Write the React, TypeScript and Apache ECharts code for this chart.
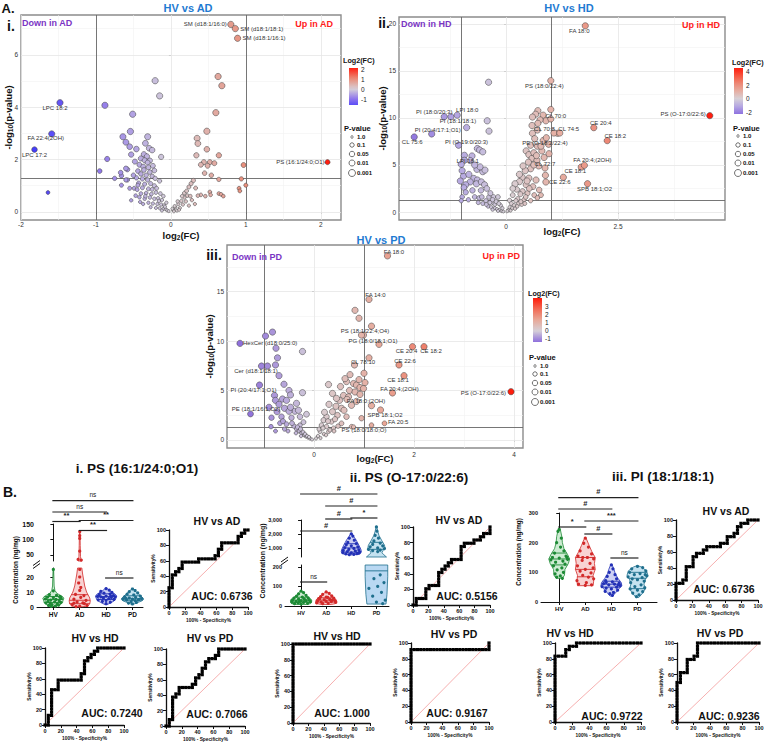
import { useEffect, useRef } from "react";
import * as echarts from "echarts";

const SANS = "'Liberation Sans', Arial, Helvetica, sans-serif";

// ===================== A. Volcano plots: [log2(FC), -log10(p)] =====================
const adPoints = [
  [-0.21,5.01],[-0.15,4.43],[-0.88,4.07],[-0.51,3.73],[-0.54,3.07],[-0.64,2.87],[-0.6,2.66],[-0.55,2.49],[-0.53,2.19],[-0.85,2.02],
  [-0.95,1.56],[-0.58,1.62],[-0.75,1.28],[-0.66,1.38],[-0.58,1.22],[-0.66,1.02],[-0.49,0.9],[-0.53,0.44],[-0.31,2.87],[-0.34,2.62],
  [-0.29,2.43],[-0.25,2.36],[-0.13,2.1],[-0.36,2.2],[-0.32,2.12],[-0.4,2.04],[-0.35,1.97],[-0.28,1.96],[-0.31,1.88],[-0.42,1.8],
  [-0.37,1.73],[-0.3,1.7],[-0.24,1.76],[-0.44,1.56],[-0.36,1.6],[-0.28,1.52],[-0.4,1.45],[-0.33,1.4],[-0.25,1.36],[-0.46,1.3],
  [-0.38,1.26],[-0.31,1.22],[-0.21,1.28],[-0.43,1.1],[-0.35,1.06],[-0.27,1.08],[-0.22,1.0],[-0.45,0.85],[-0.38,0.92],[-0.3,0.88],
  [-0.19,0.9],[-0.4,0.7],[-0.33,0.72],[-0.26,0.68],[-0.2,0.74],[-0.14,0.7],[-0.42,0.56],[-0.35,0.5],[-0.28,0.55],[-0.22,0.5],
  [-0.17,0.52],[-0.12,0.45],[-0.37,0.3],[-0.3,0.35],[-0.24,0.32],[-0.18,0.3],[-0.13,0.28],[-0.09,0.25],[-0.27,0.18],[-0.2,0.15],
  [-0.15,0.14],[-0.1,0.12],[-0.07,0.1],[-0.05,0.06],[-0.03,0.03],[-0.12,0.05],[-0.08,0.2],[-0.16,0.42],[-0.46,2.4],[-0.22,1.58],
  [-0.48,1.92],[-0.15,1.18],[-0.1,0.6],[-0.06,0.35],[-0.25,0.86],[-0.34,0.6],[-0.44,1.02],[-0.5,1.4],[-0.47,0.62],[-0.41,0.38],
  [-0.67,1.5],[-0.6,1.66],[-0.55,0.9],[-0.6,1.22],[-1.64,0.74],
  [0.63,5.17],[0.68,4.82],[0.6,3.79],[0.48,3.08],[0.35,2.81],[0.36,2.61],[0.48,2.39],[0.34,2.16],[0.64,2.16],[0.44,1.9],
  [0.52,1.9],[0.4,1.8],[0.49,1.76],[0.45,1.48],[0.54,1.4],[0.64,1.24],[0.97,1.79],[0.94,1.26],[1.0,1.02],[0.91,0.9],
  [0.92,0.8],[0.52,0.76],[0.53,0.65],[0.64,0.7],[0.67,0.67],[0.33,0.91],[0.4,0.65],[0.3,1.2],[0.27,1.08],[0.24,0.95],
  [0.32,0.3],[0.22,0.62],[0.18,0.55],[0.26,0.6],[0.14,0.42],[0.2,0.4],[0.28,0.45],[0.1,0.3],[0.16,0.28],[0.24,0.24],
  [0.06,0.18],[0.12,0.15],[0.03,0.08],[0.08,0.05],[0.18,0.72],[0.36,0.62],[0.46,0.6],[0.7,0.6],[0.58,1.86],[0.21,0.8],
  [0.15,0.6],[0.09,0.4],[0.05,0.22],[0.02,0.12],[0.11,0.08],[0.04,0.02],
];
const adNamed: [string, number, number][] = [
  ["SM (d18:1/16:0)", 0.8, 7.16], ["SM (d18:1/18:1)", 0.86, 7.0], ["SM (d18:1/16:1)", 0.89, 6.63],
  ["LPC 18:2", -1.48, 4.17], ["FA 22:4(2OH)", -1.59, 2.98], ["LPC 17:2", -1.82, 2.38],
  ["PS (16:1/24:0;O1)", 2.09, 1.9],
];
// label placement: dx, dy from the marker centre (px), text alignment
const adTags: Record<string, [number, number, string]> = {
  "SM (d18:1/16:0)": [-4, 0, "right"], "SM (d18:1/18:1)": [5, 0, "left"], "SM (d18:1/16:1)": [5, 0, "left"],
  "LPC 18:2": [-5, 5, "center"], "FA 22:4(2OH)": [-6, 4, "center"], "LPC 17:2": [0, 5, "center"],
  "PS (16:1/24:0;O1)": [-3, 0, "right"],
};

const hdPoints = [
  [-0.39,13.8],[-0.42,9.7],[-0.38,8.6],[-0.88,8.98],[-0.64,6.75],[-0.59,6.6],[-0.52,6.4],[-0.93,6.03],[-0.76,5.96],[-0.93,5.5],
  [-0.8,5.47],[-0.65,4.54],[-0.52,4.29],[-0.47,4.46],[-0.95,3.82],[-0.72,3.57],[-0.64,3.4],[-0.8,3.2],[-0.9,2.9],[-0.94,2.6],
  [-0.66,3.0],[-0.55,3.2],[-0.48,2.9],[-0.43,2.5],[-0.56,2.3],[-0.9,2.1],[-0.98,1.6],[-0.7,1.6],[-0.6,1.5],[-0.38,1.6],
  [-0.28,1.6],[-0.18,1.6],[-0.29,1.0],[-0.25,0.8],[-0.12,0.7],[-1.0,1.2],[-0.84,1.3],[-0.75,2.3],[-1.02,3.3],[-0.98,4.4],
  [-0.83,4.0],[-0.58,4.8],[-0.7,5.0],[-0.35,2.0],[-0.45,1.2],[-0.52,0.9],[-0.4,0.6],[-0.33,0.5],[-0.25,0.4],[-0.2,0.3],
  [-0.15,0.2],[-0.1,0.1],[-0.06,0.05],[-0.3,1.3],[-0.22,1.1],[-0.16,0.9],[-0.08,0.4],[-0.62,1.0],[-0.54,1.6],[-0.36,1.0],
  [-0.44,0.8],[-0.3,0.25],[-0.18,0.12],
  [0.71,10.78],[0.66,10.4],[0.59,10.1],[0.83,10.3],[0.89,9.7],[0.76,9.8],[0.71,9.43],[1.15,8.37],[0.7,8.72],[0.59,8.37],
  [0.83,7.6],[0.7,7.0],[0.55,7.1],[0.45,6.5],[0.51,6.1],[0.58,5.7],[0.69,5.5],[0.73,4.9],[0.55,4.6],[0.43,4.4],
  [0.36,3.7],[0.51,3.6],[0.67,3.4],[0.3,3.23],[0.45,2.9],[0.6,2.7],[0.74,2.35],[0.24,2.4],[0.37,2.2],[0.48,2.0],
  [0.63,1.8],[0.78,1.8],[0.15,1.8],[0.26,1.4],[0.4,1.3],[0.55,1.2],[0.08,1.23],[0.9,7.9],[0.95,7.2],[0.64,7.8],
  [0.8,6.5],[0.62,6.3],[0.68,6.0],[0.5,5.3],[0.62,5.0],[0.85,5.8],[0.38,4.9],[0.3,4.0],[0.2,3.0],[0.15,2.5],
  [0.32,1.9],[0.22,1.2],[0.12,0.9],[0.18,0.7],[0.28,0.9],[0.35,0.8],[0.08,0.5],[0.14,0.4],[0.05,0.2],[0.1,0.15],
  [0.03,0.1],[0.44,1.6],[0.7,1.5],[0.52,2.5],[0.96,6.2],[0.58,9.2],[1.0,10.9],[0.47,3.3],[0.88,3.9],[1.68,4.78],
  [0.25,0.6],[0.33,1.1],[0.42,0.9],[0.2,0.35],
];
const hdNamed: [string, number, number][] = [
  ["FA 18:0", 1.77, 19.8], ["PS (18:0/22:4)", 1.0, 13.97], ["PS (O-17:0/22:6)", 4.55, 10.25],
  ["CE 20:4", 1.96, 8.97], ["CE 18:2", 2.26, 7.59], ["FA 20:4;(2OH)", 1.75, 4.96], ["CE 18:1", 1.28, 3.69],
  ["SPB 18:1;O2", 1.82, 3.01], ["CE 22:6", 0.89, 3.19], ["CL 72:7", 0.87, 4.68], ["CL 70:0", 1.0, 9.9],
  ["CL 70:8", 1.07, 8.4], ["CL 74:5", 1.2, 8.4], ["PE (O-18:2/22:4)", 0.78, 7.0], ["CL 75:6", -2.05, 7.98],
  ["PI (20:4/17:1;O1)", -1.66, 8.3], ["PI (18:0/20:3)", -1.38, 10.14], ["PI (18:1/18:1)", -1.23, 10.14],
  ["LPI 18:0", -1.09, 10.3], ["PI (O-19:0/20:3)", -1.06, 7.1], ["LPI 18:1", -1.0, 5.07],
];
const hdTags: Record<string, [number, number, string]> = {
  "FA 18:0": [-6, 5, "center"], "PS (18:0/22:4)": [-6.5, 5, "center"], "PS (O-17:0/22:6)": [-4, -2, "right"],
  "CE 20:4": [7, -5, "center"], "CE 18:2": [8, -5, "center"], "FA 20:4;(2OH)": [8, -5, "center"],
  "CE 18:1": [12, -6, "center"], "SPB 18:1;O2": [7, 5, "center"], "CE 22:6": [3, 0, "left"],
  "CL 72:7": [0, -4, "center"], "CL 70:0": [5, -3, "center"], "CL 70:8": [-9.5, -4, "center"],
  "CL 74:5": [9, -4, "center"], "PE (O-18:2/22:4)": [4, -3, "center"], "CL 75:6": [-2, 5, "center"],
  "PI (20:4/17:1;O1)": [6, -4, "center"], "PI (18:0/20:3)": [-10, -5, "center"], "PI (18:1/18:1)": [7, 4, "center"],
  "LPI 18:0": [10, -5, "center"], "PI (O-19:0/20:3)": [8, -3, "center"], "LPI 18:1": [6.5, -3, "center"],
};

const pdPoints = [
  [-0.83,10.9],[-0.97,10.5],[-0.76,9.27],[-0.73,8.3],[-0.23,8.94],[-0.77,7.58],[-0.7,6.5],[-0.6,5.63],[-0.23,4.78],[-0.5,5.0],
  [-0.79,4.5],[-0.47,4.55],[-0.77,4.0],[-0.63,4.14],[-0.55,4.0],[-0.35,3.7],[-0.74,2.86],[-0.59,3.2],[-0.85,2.25],[-0.65,2.35],
  [-0.45,2.25],[-0.38,2.9],[-0.28,2.35],[-0.86,1.35],[-0.77,0.9],[-0.59,1.1],[-0.52,0.9],[-0.28,1.5],[-0.15,2.6],[-0.21,1.8],
  [-0.68,1.7],[-0.4,1.4],[-0.35,1.1],[-0.3,0.9],[-0.25,0.7],[-0.2,0.5],[-0.16,0.35],[-0.12,0.25],[-0.08,0.15],[-0.04,0.05],
  [-0.44,1.7],[-0.33,1.3],[-0.27,1.1],[-0.22,0.8],[-0.18,0.6],[-0.14,0.4],[-0.1,0.3],[-0.5,2.9],[-0.62,1.9],[-0.9,3.3],
  [-0.7,3.6],[-0.47,3.3],[-0.31,3.0],[-0.36,0.7],[-0.26,0.4],[-0.55,1.6],[-0.93,7.47],
  [0.82,13.1],[0.9,12.3],[0.99,10.6],[0.95,10.6],[0.81,7.58],[1.0,6.74],[0.72,6.6],[0.65,5.9],[0.79,5.7],[0.85,5.55],
  [0.92,5.3],[0.99,5.2],[0.53,5.4],[0.71,5.0],[0.82,4.85],[0.59,4.5],[0.69,4.36],[0.37,4.7],[0.29,5.6],[0.51,4.0],
  [0.75,3.5],[0.44,3.4],[0.55,3.2],[0.37,2.86],[0.47,2.5],[0.65,2.35],[0.95,2.2],[0.25,2.35],[0.19,2.0],[0.35,1.85],
  [0.55,1.68],[0.75,1.35],[1.15,1.5],[0.25,1.35],[0.12,0.85],[0.29,0.85],[0.39,1.2],[0.6,3.0],[0.85,3.9],[0.62,6.2],
  [0.9,6.1],[0.45,4.2],[0.3,3.6],[0.21,2.8],[0.15,1.5],[0.32,1.0],[0.2,0.6],[0.08,0.4],[0.04,0.15],[0.13,0.2],
  [0.24,0.5],[0.4,0.9],[0.48,1.4],[0.66,4.1],[0.92,4.6],[1.02,5.8],[0.1,1.1],[0.18,1.2],[0.28,1.9],[0.42,2.1],
];
const pdNamed: [string, number, number][] = [
  ["FA 18:0", 1.47, 18.6], ["FA 14:0", 1.1, 14.2], ["PS (18:1/22:4;O4)", 1.15, 11.5], ["PG (18:0/18:1;O1)", 1.3, 9.66],
  ["CE 20:4", 1.97, 9.43], ["CE 18:2", 2.2, 9.43], ["CE 22:6", 1.7, 7.58], ["CL 78:10", 1.1, 8.3],
  ["CE 18:1", 1.8, 6.5], ["FA 20:4;(2OH)", 1.57, 4.75], ["FA 18:0;(2OH)", 1.15, 3.47], ["SPB 18:1;O2", 1.33, 3.03],
  ["FA 20:5", 1.41, 1.68], ["PS (18:0/18:0;O)", 0.79, 1.31], ["PS (O-17:0/22:6)", 3.94, 4.88],
  ["HexCer (d18:0/25:0)", -1.48, 9.76], ["Cer (d18:1/18:1)", -1.05, 7.47], ["PI (20:4/17:1;O1)", -1.09, 5.55],
  ["PE (18:1/16:1;O2)", -1.27, 2.63],
];
const pdTags: Record<string, [number, number, string]> = {
  "FA 18:0": [6.5, -4, "center"], "FA 14:0": [6.5, -4.7, "center"], "PS (18:1/22:4;O4)": [-6.5, 4.5, "center"],
  "PG (18:0/18:1;O1)": [-6, -3.4, "center"], "CE 20:4": [-6, 4.3, "center"], "CE 18:2": [7, 4.3, "center"],
  "CE 22:6": [6, -4, "center"], "CL 78:10": [-6, 4, "center"], "CE 18:1": [-6, 4.6, "center"],
  "FA 20:4;(2OH)": [7, -4, "center"], "FA 18:0;(2OH)": [-5.5, -5, "center"], "SPB 18:1;O2": [4.5, 5, "center"],
  "FA 20:5": [3.5, -1, "left"], "PS (18:0/18:0;O)": [10.5, 3, "center"], "PS (O-17:0/22:6)": [-5, 1, "right"],
  "HexCer (d18:0/25:0)": [3, 0, "left"], "Cer (d18:1/18:1)": [-5.5, 5, "center"],
  "PI (20:4/17:1;O1)": [-6, 5, "center"], "PE (18:1/16:1;O2)": [5.5, -5, "center"],
};

const pValueKeys = ["1.0", "0.1", "0.05", "0.01", "0.001"];
const adFcTicks = [2, 1, 0, -1];
const hdFcTicks = [4, 2, 0, -2];
const pdFcTicks = [3, 2, 1, 0, -1];
const adColors = ["#2f2dff", "#8a70ee", "#d7d1d8", "#ea8b76", "#ff1e10"];
const hdColors = ["#8e72e0", "#b4a6e2", "#d7d1d8", "#e6b0a4", "#ec8a78", "#f65a44", "#ff1e10"];
const pdColors = ["#8f70dc", "#d7d1d8", "#e8a898", "#f26a54", "#ff1a0a"];

// ===================== B. Concentrations (violins) =====================
const GROUPS = ["HV", "AD", "HD", "PD"];
const GROUP_DOT = ["#1d8a35", "#d32a2a", "#2331b6", "#1f6f8d"];
const GROUP_FILL = ["#cdebd2", "#f8d2d2", "#cdd0f3", "#c4e2f0"];

// violin outlines: [concentration, half width in category units]
const psO1ShapeHV = [[0.5,0.04],[1,0.2],[2,0.3],[3,0.35],[4,0.36],[5,0.38],[6,0.4],[7,0.34],[8,0.25],[9,0.14],[11,0.06],[14,0.03],[20,0.02],[25,0.01]];
const psO1ShapeAD = [[0.2,0.12],[0.6,0.3],[2,0.38],[4,0.4],[6,0.38],[8,0.32],[10,0.26],[14,0.19],[18,0.15],[22,0.11],[26,0.08],[32,0.05],[45,0.03],[80,0.02],[126,0.01]];
const psO1ShapeHD = [[1.6,0.04],[3,0.2],[4,0.3],[5,0.35],[6,0.38],[7,0.4],[8,0.38],[9,0.3],[10,0.22],[11,0.12],[12.5,0.03]];
const psO1ShapePD = [[1.8,0.04],[3,0.2],[4,0.35],[5,0.42],[6,0.4],[7,0.34],[8,0.28],[9,0.22],[10,0.15],[11,0.08],[12.2,0.03]];
// individual samples: [jitter, concentration]
const psO1DotsHV = [[0,25],[0,10.8],[-0.15,8.2],[0.12,7.8],[0.25,7],[-0.22,6.6],[0,6.2],[0.3,5.8],[-0.3,5.4],[0.1,5],[-0.1,4.6],[0.22,4.2],[-0.2,3.8],[0.05,3.4],[0.28,3],[-0.28,2.8],[-0.12,2.4],[0.15,2],[-0.05,1.6],[0.2,1.2],[-0.18,1],[0.08,0.6],[-0.08,0.4],[0.25,6.4]];
const psO1DotsAD = [[0,125],[0,112],[0,103],[0,62],[-0.06,35],[0.06,33],[0,25],[0,20],[-0.04,16],[0.04,13],[0,11],[-0.16,8.4],[0.16,7.6],[0.04,6.4],[-0.22,5.2],[0.24,4.4],[-0.1,3.4],[0.12,2.8],[-0.28,1.6],[0.28,1],[0,0.6],[-0.14,0.3],[0.18,2.2],[-0.22,2.6]];
const psO1DotsHD = [[0,12.2],[0.12,11.2],[-0.2,10.4],[0.22,9.8],[-0.08,9.2],[0.15,8.6],[-0.26,8.2],[0.28,7.6],[0,7.2],[-0.2,6.8],[0.2,6.4],[-0.1,6],[0.1,5.6],[0.3,5],[-0.3,4.8],[0,4.4],[-0.14,3.8],[0.16,3.2],[0,2.2],[0.18,7],[-0.32,7],[0.34,6.8]];
const psO1DotsPD = [[0,12],[0.1,11],[-0.12,10.2],[0.2,9.4],[-0.2,8.6],[0.05,8],[0.3,7.2],[-0.3,6.8],[0.12,6.4],[-0.12,6],[0.35,5.6],[-0.35,5.4],[0,5.2],[0.22,4.8],[-0.22,4.6],[0.1,4.2],[-0.05,3.6],[0.15,3],[-0.15,2.6],[0,2],[0.25,5],[-0.25,5.8]];
const psO1Quartiles = [[3, 5, 7], [2.2, 4.5, 8.2], [5, 7, 8.8], [4.5, 5.5, 7.5]];

const psO17ShapeHV = [[8,0.2],[12,0.38],[20,0.42],[30,0.42],[40,0.35],[50,0.22],[60,0.14],[70,0.08],[78,0.02]];
const psO17ShapeAD = [[8,0.2],[12,0.36],[22,0.42],[32,0.4],[42,0.32],[52,0.22],[62,0.12],[72,0.02]];
const psO17ShapeHD = [[500,0.04],[540,0.28],[620,0.36],[750,0.4],[900,0.38],[1050,0.34],[1200,0.3],[1400,0.24],[1600,0.18],[1800,0.1],[2050,0.02]];
const psO17ShapePD = [[10,0.38],[60,0.42],[150,0.45],[210,0.45],[350,0.4],[500,0.3],[650,0.22],[800,0.26],[1000,0.34],[1200,0.32],[1500,0.22],[1900,0.1],[2200,0.05],[2550,0.01]];
const psO17DotsHV = [[0,76],[0.1,68],[-0.1,62],[0.2,55],[-0.18,50],[0.05,46],[0.28,42],[-0.28,40],[0.12,37],[-0.1,35],[0.32,32],[-0.34,30],[0,28],[0.2,26],[-0.2,24],[0.36,22],[-0.36,20],[0.1,18],[-0.12,16],[0.26,14],[-0.26,12],[0,10],[0.16,30],[-0.06,22]];
const psO17DotsAD = [[0,72],[0.12,65],[-0.14,60],[0.22,52],[-0.22,48],[0.06,44],[0.3,40],[-0.3,38],[0.14,34],[-0.08,32],[0.34,28],[-0.34,26],[0,24],[0.2,22],[-0.2,20],[0.38,18],[-0.38,16],[0.08,14],[-0.14,12],[0.24,30],[-0.26,36],[0,45]];
const psO17DotsHD = [[0,2000],[0.06,1850],[-0.08,1700],[0.12,1550],[-0.14,1400],[0.2,1300],[-0.2,1220],[0,1150],[0.26,1080],[-0.26,1020],[0.1,960],[-0.1,900],[0.3,860],[-0.32,820],[0.16,780],[-0.16,740],[0.34,700],[-0.34,660],[0,640],[0.22,600],[-0.22,580],[0.1,540],[-0.08,520],[0.3,620]];
const psO17DotsPD = [[0,2500],[0.02,2200],[-0.05,1900],[0.08,1700],[-0.1,1500],[0.15,1350],[-0.15,1250],[0.25,1150],[-0.25,1080],[0.05,1000],[0.32,950],[-0.32,900],[0.15,850],[-0.15,800],[0.05,740],[0.15,160],[-0.1,140],[0.3,120],[0.05,100],[-0.3,90],[0.2,70],[-0.15,50],[0.35,30],[0,20],[0.25,12]];
const psO17Quartiles = [[20, 30, 45], [20, 30, 42], [700, 1000, 1300], [180, 900, 1400]];

const piShapeHV = [[80,0.12],[90,0.2],[110,0.22],[130,0.35],[145,0.4],[160,0.32],[180,0.18],[200,0.12],[220,0.1],[245,0.04]];
const piShapeAD = [[55,0.3],[70,0.32],[90,0.3],[110,0.38],[130,0.35],[150,0.38],[170,0.25],[190,0.15],[215,0.03]];
const piShapeHD = [[20,0.05],[30,0.15],[45,0.3],[55,0.4],[65,0.38],[80,0.25],[95,0.15],[110,0.1],[125,0.03]];
const piShapePD = [[15,0.05],[30,0.2],[45,0.3],[60,0.25],[75,0.3],[90,0.4],[105,0.35],[118,0.15],[122,0.03]];
const piDotsHV = [[0,245],[-0.05,238],[0.08,215],[-0.1,200],[0.05,185],[0.18,172],[-0.18,165],[0.26,155],[-0.26,150],[0,148],[0.32,144],[-0.32,142],[0.14,138],[-0.14,134],[0.22,128],[-0.22,122],[0.1,115],[-0.08,108],[0.16,100],[-0.16,95],[0.04,88],[-0.1,84],[0.12,80],[0.3,150]];
const piDotsAD = [[0,215],[-0.06,198],[0.12,185],[-0.2,172],[0.24,162],[-0.28,155],[0.08,150],[0.32,145],[-0.12,140],[0.18,130],[-0.3,122],[0.3,115],[0,110],[-0.2,104],[0.22,98],[-0.1,90],[0.12,84],[0.32,78],[-0.32,72],[0.04,65],[-0.26,60],[0.24,58],[0,56],[-0.1,150]];
const piDotsHD = [[0,125],[0.06,112],[-0.08,100],[0.14,92],[-0.16,86],[0.2,78],[-0.22,72],[0.04,68],[0.3,64],[-0.3,62],[0.12,60],[-0.1,58],[0.34,55],[-0.36,52],[0.2,50],[-0.2,47],[0,44],[0.24,40],[-0.24,36],[0.08,32],[-0.06,28],[0.04,22],[0.26,58],[-0.2,66]];
const piDotsPD = [[0,120],[0.2,116],[-0.22,112],[0.32,105],[-0.3,100],[0.1,96],[-0.12,92],[0.36,88],[-0.36,85],[0.18,82],[-0.2,78],[0,75],[0.26,70],[-0.26,65],[0.14,58],[-0.1,52],[0.28,48],[-0.28,44],[0,40],[0.2,35],[-0.18,30],[0.06,24],[-0.04,18],[0.3,92]];
const piQuartiles = [[125, 145, 165], [85, 110, 150], [50, 60, 70], [45, 80, 100]];

// pairwise comparisons: [group a, group b, annotation]
const psO1Tests: [number, number, string][] = [[0, 3, "ns"], [0, 2, "ns"], [0, 1, "**"], [1, 3, "**"], [1, 2, "**"], [2, 3, "ns"]];
const psO17Tests: [number, number, string][] = [[0, 3, "#"], [1, 3, "#"], [1, 2, "#"], [2, 3, "*"], [0, 2, "#"], [0, 1, "ns"]];
const piTests: [number, number, string][] = [[0, 3, "#"], [0, 2, "#"], [0, 1, "*"], [1, 3, "***"], [1, 2, "#"], [2, 3, "ns"]];

// ROC curves: sensitivity steps (out of 24) reached at each of 24 false-positive steps
const rocPsO1AD = [6,10,11,12,14,14,14,14,14,15,15,15,15,15,16,18,20,20,20,20,20,22,23,24];
const rocPsO1HD = [0,3,11,11,14,14,14,14,14,14,14,16,20,21,22,23,24,24,24,24,24,24,24,24];
const rocPsO1PD = [0,2,9,10,12,12,12,12,13,15,16,18,20,21,21,22,24,24,24,24,24,24,24,24];
const rocPsO17AD = [0,2,2,2,5,6,6,6,10,11,12,13,14,14,14,18,19,19,19,20,20,21,22,22];
const rocPsO17HD = [24,24,24,24,24,24,24,24,24,24,24,24,24,24,24,24,24,24,24,24,24,24,24,24];
const rocPsO17PD = [22,22,22,22,22,22,22,22,22,22,22,22,22,22,22,22,22,22,22,22,22,22,22,22];
const rocPiAD = [5,5,6,10,10,13,14,14,15,16,16,16,16,17,17,19,19,20,22,23,23,24,24,24];
const rocPiHD = [20,20,20,22,23,23,24,24,24,24,24,24,24,24,24,24,24,24,24,24,24,24,24,24];
const rocPiPD = [12,15,15,19,19,20,24,24,24,24,24,24,24,24,24,24,24,24,24,24,24,24,24,24];
const aucLabels = ["0.6736", "0.7240", "0.7066", "0.5156", "1.000", "0.9167", "0.6736", "0.9722", "0.9236"];

// ---------------------------------------------------------------------------
function hexToRgb(h: string) {
  const n = parseInt(h.slice(1), 16);
  return [(n >> 16) & 255, (n >> 8) & 255, n & 255];
}
function colorAt(v: number, min: number, max: number, cols: string[]) {
  let t = (v - min) / (max - min);
  t = Math.max(0, Math.min(1, t));
  const f = t * (cols.length - 1);
  const i = Math.min(Math.floor(f), cols.length - 2);
  const u = f - i;
  const a = hexToRgb(cols[i]), b = hexToRgb(cols[i + 1]);
  const c = a.map((x, k) => Math.round(x + (b[k] - x) * u));
  return `rgb(${c[0]},${c[1]},${c[2]})`;
}
function clipShape(shape: number[][], lo: number, hi: number) {
  const out: number[][] = [];
  for (let i = 0; i < shape.length; i++) {
    const [v, w] = shape[i];
    if (i > 0) {
      const [pv, pw] = shape[i - 1];
      for (const b of [lo, hi]) {
        if ((pv - b) * (v - b) < 0) out.push([b, pw + ((w - pw) * (b - pv)) / (v - pv)]);
      }
    }
    if (v >= lo && v <= hi) out.push([v, w]);
  }
  return out.sort((a, b) => a[0] - b[0]);
}
function widthAt(shape: number[][], q: number) {
  for (let i = 1; i < shape.length; i++) {
    const [pv, pw] = shape[i - 1], [v, w] = shape[i];
    if (q >= pv && q <= v) return pw + ((w - pw) * (q - pv)) / (v - pv);
  }
  return 0;
}
function rocPath(h: number[]) {
  const n = h.length;
  const pts: number[][] = [[0, 0]];
  let cur = 0;
  for (let c = 0; c < n; c++) {
    while (cur < h[c]) { cur++; pts.push([c, cur]); }
    pts.push([c + 1, cur]);
  }
  while (cur < n) { cur++; pts.push([n, cur]); }
  return pts.map(([x, y]) => [(x * 100) / n, (y * 100) / n]);
}

function buildOption() {
  const grid: any[] = [], xAxis: any[] = [], yAxis: any[] = [], series: any[] = [], visualMap: any[] = [], els: any[] = [];

  const addGrid = (g: any, xa: any, ya: any) => {
    grid.push({ outerBoundsMode: "none", containLabel: false, ...g });
    const gi = grid.length - 1;
    xAxis.push({ gridIndex: gi, nameMoveOverlap: false, ...xa });
    yAxis.push({ gridIndex: gi, nameMoveOverlap: false, ...ya });
    return gi;
  };
  const txt = (x: number, y: number, text: string, size: number, o: any = {}) => {
    const align = o.align || "center";
    els.push({
      type: "text", x, y, rotation: o.rot || 0, silent: true, z: 100,
      style: {
        text, fill: o.color || "#111", font: `${o.weight || "bold"} ${size}px ${SANS}`,
        textAlign: align, align, textVerticalAlign: "middle", verticalAlign: "middle",
      },
    });
  };
  const seg = (x1: number, y1: number, x2: number, y2: number, w = 1.1, color = "#111") => {
    els.push({ type: "line", silent: true, z: 100, shape: { x1, y1, x2, y2 }, style: { stroke: color, lineWidth: w } });
  };

  // ---------------- volcano ----------------
  const volcano = (c: any) => {
    const tickStyle = { fontSize: 6.5, color: "#333", fontFamily: SANS };
    const nameStyle = {
      fontSize: 9.5, fontWeight: "bold", color: "#111", fontFamily: SANS, lineHeight: 12,
      rich: { s: { fontSize: 6.5, fontWeight: "bold", color: "#111", fontFamily: SANS, verticalAlign: "bottom", lineHeight: 8 } },
    };
    const gi = addGrid(
      { left: c.left, top: c.top, width: c.right - c.left, height: c.bottom - c.top, show: true, borderColor: "#8c8c8c", borderWidth: 1.4, backgroundColor: "#fff" },
      {
        type: "value", min: c.xMin, max: c.xMax, axisLine: { show: false },
        axisTick: { show: true, customValues: c.xLabels, length: 2, lineStyle: { color: "#555", width: 0.8 } },
        axisLabel: { customValues: c.xLabels, margin: c.xMargin, ...tickStyle }, splitLine: { show: false },
        name: "log{s|2}(FC)", nameLocation: "middle", nameGap: c.xNameGap, nameTextStyle: nameStyle,
      },
      {
        type: "value", min: c.yMin, max: c.yMax, axisLine: { show: false },
        axisTick: { show: true, customValues: c.yLabels, length: 2, lineStyle: { color: "#555", width: 0.8 } },
        axisLabel: { customValues: c.yLabels, margin: 3, ...tickStyle }, splitLine: { show: false },
        name: "-log{s|10}(p-value)", nameLocation: "middle", nameGap: c.yNameGap, nameRotate: 90, nameTextStyle: nameStyle,
      }
    );
    const major = { color: "#e6e6e6", width: 0.8, type: "solid" };
    const minor = { color: "#f1f1f1", width: 0.6, type: "solid" };
    series.push({
      type: "scatter", xAxisIndex: gi, yAxisIndex: gi, data: [], silent: true,
      markLine: {
        silent: true, symbol: "none", z: 1, animation: false, label: { show: false },
        data: [
          ...c.xMinor.map((v: number) => ({ xAxis: v, lineStyle: minor })),
          ...c.yMinor.map((v: number) => ({ yAxis: v, lineStyle: minor })),
          ...c.xMajor.map((v: number) => ({ xAxis: v, lineStyle: major })),
          ...c.yMajor.map((v: number) => ({ yAxis: v, lineStyle: major })),
        ],
      },
    });
    series.push({
      type: "scatter", xAxisIndex: gi, yAxisIndex: gi, data: [], silent: true,
      markLine: {
        silent: true, symbol: "none", z: 2, animation: false, label: { show: false },
        lineStyle: { color: "#666", width: 0.9, type: "solid" },
        data: [{ xAxis: -1 }, { xAxis: 1 }, { yAxis: 1.3 }],
      },
    });
    const data: any[] = c.points.map((p: number[]) => ({ value: p }));
    c.named.forEach(([n, x, y]: [string, number, number]) => {
      const [dx, dy, align] = c.tags[n];
      data.push({
        value: [x, y], name: n,
        label: {
          show: true, formatter: "{b}", position: "inside", offset: [dx, dy], align, verticalAlign: "middle",
          fontSize: 6, color: "#333", fontFamily: SANS,
        },
      });
    });
    series.push({
      type: "scatter", xAxisIndex: gi, yAxisIndex: gi, z: 3, data,
      symbolSize: (v: number[]) => 3 + Math.min(v[1], 3) * 1.1,
      itemStyle: { borderColor: "#3a3a3a", borderWidth: 0.5, opacity: 1 },
      emphasis: { disabled: true },
    });
    visualMap.push({
      type: "continuous", show: false, seriesIndex: series.length - 1, dimension: 0,
      min: c.vmMin, max: c.vmMax, inRange: { color: c.colors },
    });

    // legend: colour bar
    const L = c.legend;
    txt(L.x, L.fcY, "Log2(FC)", 7.2, { align: "left" });
    const stops = [];
    for (let k = 0; k <= 12; k++) {
      const v = L.barTop - ((L.barTop - L.barBottom) * k) / 12;
      stops.push({ offset: k / 12, color: colorAt(v, c.vmMin, c.vmMax, c.colors) });
    }
    els.push({
      type: "rect", silent: true, z: 100, shape: { x: L.barX, y: L.barY, width: 9, height: L.barH },
      style: { fill: { type: "linear", x: 0, y: 0, x2: 0, y2: 1, colorStops: stops } },
    });
    L.ticks.forEach((t: number) => {
      const y = L.barY + ((L.barTop - t) / (L.barTop - L.barBottom)) * L.barH;
      seg(L.barX + 9, y, L.barX + 11, y, 0.6, "#fff");
      txt(L.barX + 12, y, String(t), 6.5, { align: "left", weight: "normal", color: "#222" });
    });
    // legend: p-value sizes
    txt(L.x + 1, L.pY, "P-value", 7.5, { align: "left" });
    const radii = [1.2, 2.2, 2.7, 3.0, 3.5];
    pValueKeys.forEach((k, i) => {
      const y = L.pRows[i];
      els.push({ type: "circle", silent: true, z: 100, shape: { cx: L.cx, cy: y, r: radii[i] }, style: { fill: "#fff", stroke: "#333", lineWidth: 0.7 } });
      txt(L.cx + 5, y, k, 6, { align: "left" });
    });
  };

  volcano({
    left: 21, right: 341, top: 15, bottom: 220, xMin: -2, xMax: 2.27, yMin: -0.31, yMax: 7.52,
    xLabels: [-2, -1, 0, 1, 2], yLabels: [0, 2, 4, 6], xMajor: [-2, 0, 2], xMinor: [-1.5, -0.5, 0.5, 1.5],
    yMajor: [0, 2, 4, 6], yMinor: [1, 3, 5, 7], xMargin: 1, xNameGap: 9, yNameGap: 7,
    points: adPoints, named: adNamed, tags: adTags, vmMin: -2.1, vmMax: 2.1, colors: adColors,
    legend: { x: 343, fcY: 60, barX: 349, barY: 68, barH: 37, barTop: 2.1, barBottom: -1.6, ticks: adFcTicks, pY: 128, pRows: [137, 145, 154, 163, 173], cx: 352 },
  });
  volcano({
    left: 399, right: 725, top: 17, bottom: 220, xMin: -2.39, xMax: 4.89, yMin: -0.85, yMax: 20.74,
    xLabels: [0, 2.5], yLabels: [0, 5, 10, 15, 20], xMajor: [0, 2.5], xMinor: [-1.25, 1.25, 3.75],
    yMajor: [0, 5, 10, 15, 20], yMinor: [2.5, 7.5, 12.5, 17.5], xMargin: 3, xNameGap: 5, yNameGap: 11,
    points: hdPoints, named: hdNamed, tags: hdTags, vmMin: -2.2, vmMax: 4.4, colors: hdColors,
    legend: { x: 732, fcY: 62, barX: 734, barY: 68, barH: 46, barTop: 4.5, barBottom: -2.2, ticks: hdFcTicks, pY: 128, pRows: [136, 145, 154, 163, 173], cx: 738 },
  });
  volcano({
    left: 227, right: 523, top: 245, bottom: 448, xMin: -1.74, xMax: 4.18, yMin: -0.81, yMax: 19.7,
    xLabels: [0, 2, 4], yLabels: [0, 5, 10, 15], xMajor: [0, 2, 4], xMinor: [3],
    yMajor: [0, 5, 10, 15], yMinor: [2.5, 7.5, 12.5, 17.5], xMargin: 3, xNameGap: 4, yNameGap: 12,
    points: pdPoints, named: pdNamed, tags: pdTags, vmMin: -1.33, vmMax: 4.0, colors: pdColors,
    legend: { x: 528, fcY: 293, barX: 533, barY: 298, barH: 44, barTop: 4.0, barBottom: -1.37, ticks: pdFcTicks, pY: 357, pRows: [366, 374, 383, 392, 402], cx: 535 },
  });

  // volcano headers
  const blue = "#1f7bd2", purple = "#7b35c4", red = "#ff2020";
  txt(8, 8, "A.", 13);
  txt(188, 8, "HV vs AD", 11, { color: blue });
  txt(569, 8, "HV vs HD", 11, { color: blue });
  txt(381, 240, "HV vs PD", 11, { color: blue });
  txt(11, 26, "i.", 14);
  txt(384, 23, "ii.", 14);
  txt(214, 255, "iii.", 14);
  txt(22, 23, "Down in AD", 9, { align: "left", color: purple });
  txt(333, 24, "Up in AD", 9, { align: "right", color: red });
  txt(401, 24, "Down in HD", 9, { align: "left", color: purple });
  txt(720, 25, "Up in HD", 9, { align: "right", color: red });
  txt(232, 257, "Down in PD", 9, { align: "left", color: purple });
  txt(520, 256, "Up in PD", 9, { align: "right", color: red });

  // ---------------- violins ----------------
  const violinSegment = (c: any) => {
    const gi = addGrid(
      { left: c.left, top: c.top, width: c.width, height: c.height },
      c.showX
        ? {
            type: "value", min: c.xMin, max: c.xMax,
            axisLine: { show: true, lineStyle: { color: "#111", width: 1 } },
            axisTick: { show: true, customValues: [0, 1, 2, 3], length: 3, lineStyle: { color: "#111", width: 1 } },
            axisLabel: {
              customValues: [0, 1, 2, 3], margin: 4, fontSize: c.catFont, fontWeight: "bold", color: "#111", fontFamily: SANS,
              formatter: (v: number) => GROUPS[Math.round(v)],
            },
            splitLine: { show: false },
          }
        : { type: "value", min: c.xMin, max: c.xMax, show: false, splitLine: { show: false } },
      {
        type: "value", min: c.yMin, max: c.yMax,
        axisLine: { show: true, lineStyle: { color: "#111", width: 1 } },
        axisTick: { show: true, customValues: c.yTicks, length: 3, lineStyle: { color: "#111", width: 1 } },
        axisLabel: { customValues: c.yTicks, margin: 3, fontSize: c.tickFont, fontWeight: "bold", color: "#111", fontFamily: SANS },
        splitLine: { show: false },
      }
    );
    const { shapes, dots, quartiles, yMin, yMax } = c;
    series.push({
      type: "custom", xAxisIndex: gi, yAxisIndex: gi, silent: true, z: 2,
      data: GROUPS.map((_, i) => [i, yMin]),
      renderItem: (params: any, api: any) => {
        const g = api.value(0);
        const prof = clipShape(shapes[g], yMin, yMax);
        if (prof.length < 2) return null;
        const leftSide = prof.map(([v, w]) => api.coord([g - w, v]));
        const rightSide = prof.slice().reverse().map(([v, w]) => api.coord([g + w, v]));
        const fill = c.fills && c.fills[g] ? c.fills[g] : GROUP_FILL[g];
        const children: any[] = [
          { type: "polygon", shape: { points: leftSide.concat(rightSide) }, style: { fill, stroke: GROUP_DOT[g], lineWidth: 0.8 } },
        ];
        quartiles[g].forEach((q: number) => {
          if (q < yMin || q > yMax) return;
          const w = widthAt(shapes[g], q);
          const a = api.coord([g - w, q]), b = api.coord([g + w, q]);
          children.push({ type: "line", shape: { x1: a[0], y1: a[1], x2: b[0], y2: b[1] }, style: { stroke: GROUP_DOT[g], lineWidth: 0.9 } });
        });
        return { type: "group", children };
      },
    });
    const pts: any[] = [];
    dots.forEach((arr: number[][], g: number) => {
      arr.forEach(([o, v]) => {
        if (v >= yMin && v <= yMax) pts.push({ value: [g + o, v], itemStyle: { color: GROUP_DOT[g] } });
      });
    });
    series.push({
      type: "scatter", xAxisIndex: gi, yAxisIndex: gi, z: 4, silent: true, data: pts,
      symbolSize: 3.2, itemStyle: { opacity: 1 }, emphasis: { disabled: true },
    });
  };

  const brackets = (tests: [number, number, string][], ys: number[], left: number, width: number, xMin: number, xMax: number) => {
    const px = (g: number) => left + ((g - xMin) / (xMax - xMin)) * width;
    tests.forEach(([a, b, t], i) => {
      const y = ys[i];
      seg(px(a) - 1, y, px(b) + 1, y, 1.2, "#222");
      txt((px(a) + px(b)) / 2, y - 6, t, t === "ns" ? 6.5 : 7.5, { weight: t === "ns" ? "normal" : "bold", color: "#222" });
    });
  };
  const breakMark = (x: number, y: number) => {
    els.push({ type: "rect", silent: true, z: 99, shape: { x: x - 4, y: y - 2.5, width: 8, height: 5 }, style: { fill: "#fff" } });
    seg(x - 4, y + 1, x + 3, y - 4, 1, "#111");
    seg(x - 4, y + 4, x + 3, y - 1, 1, "#111");
  };

  // i. PS (16:1/24:0;O1)
  const iShapes = [psO1ShapeHV, psO1ShapeAD, psO1ShapeHD, psO1ShapePD];
  const iDots = [psO1DotsHV, psO1DotsAD, psO1DotsHD, psO1DotsPD];
  const iBase = { left: 37, width: 106, xMin: -0.62, xMax: 3.4, shapes: iShapes, dots: iDots, quartiles: psO1Quartiles, catFont: 6.5, tickFont: 7 };
  violinSegment({ ...iBase, top: 568, height: 39, yMin: 0, yMax: 26, yTicks: [0, 10, 20], showX: true });
  violinSegment({ ...iBase, top: 524, height: 37, yMin: 30, yMax: 150, yTicks: [50, 100, 150], showX: false });
  breakMark(37, 564.5);
  brackets(psO1Tests, [500.7, 512, 521.5, 520.5, 530.5, 578], 37, 106, -0.62, 3.4);

  // ii. PS (O-17:0/22:6)
  const iiShapes = [psO17ShapeHV, psO17ShapeAD, psO17ShapeHD, psO17ShapePD];
  const iiDots = [psO17DotsHV, psO17DotsAD, psO17DotsHD, psO17DotsPD];
  const iiBase = { left: 285, width: 104, xMin: -0.64, xMax: 3.5, shapes: iiShapes, dots: iiDots, quartiles: psO17Quartiles, catFont: 5.5, tickFont: 5.5 };
  violinSegment({ ...iiBase, top: 565, height: 41, yMin: 0, yMax: 210, yTicks: [0, 100, 200], showX: true, fills: [null, null, null, "#b9d8f2"] });
  violinSegment({ ...iiBase, top: 520, height: 37, yMin: 350, yMax: 3000, yTicks: [1000, 2000, 3000], showX: false });
  breakMark(285, 561);
  brackets(psO17Tests, [494, 506, 519, 518, 531, 582], 285, 104, -0.64, 3.5);

  // iii. PI (18:1/18:1)
  violinSegment({
    left: 541, width: 116, xMin: -0.7, xMax: 3.75, top: 513, height: 89, yMin: 0, yMax: 300, yTicks: [0, 100, 200, 300], showX: true,
    shapes: [piShapeHV, piShapeAD, piShapeHD, piShapePD], dots: [piDotsHV, piDotsAD, piDotsHD, piDotsPD], quartiles: piQuartiles,
    catFont: 6, tickFont: 5.5,
  });
  brackets(piTests, [497.7, 509, 527, 521, 534, 558], 541, 116, -0.7, 3.75);

  txt(10, 492, "B.", 14);
  txt(137, 468, "i. PS (16:1/24:0;O1)", 13.5);
  txt(409, 477, "ii. PS (O-17:0/22:6)", 13.5);
  txt(663, 476, "iii. PI (18:1/18:1)", 13.5);
  txt(15, 570, "Concentration (ng/mg)", 6.3, { rot: Math.PI / 2 });
  txt(262, 561, "Concentration (ng/mg)", 7, { rot: Math.PI / 2 });
  txt(518, 552, "Concentration (ng/mg)", 6.3, { rot: Math.PI / 2 });

  // ---------------- ROC curves ----------------
  const roc = (c: any) => {
    const axisCommon = {
      type: "value", min: 0, max: 100, interval: 20,
      axisLine: { show: true, lineStyle: { color: "#111", width: 1.3 } },
      axisTick: { show: true, length: 3, lineStyle: { color: "#111", width: 1 } },
      axisLabel: { fontSize: 5.5, fontWeight: "bold", color: "#111", fontFamily: SANS, margin: 3 },
      splitLine: { show: false },
      nameLocation: "middle",
      nameTextStyle: { fontSize: 4.8, fontWeight: "bold", color: "#111", fontFamily: SANS },
    };
    const gi = addGrid(
      { left: c.left, top: c.top, width: c.width, height: c.height },
      { ...axisCommon, name: "100% - Specificity%", nameGap: 11 },
      { ...axisCommon, name: "Sensitivity%", nameGap: 13 }
    );
    series.push({
      type: "line", xAxisIndex: gi, yAxisIndex: gi, data: [[0, 0], [100, 100]], symbol: "none", silent: true, z: 2,
      lineStyle: { color: "#f07878", width: 0.6 },
    });
    series.push({
      type: "line", xAxisIndex: gi, yAxisIndex: gi, data: rocPath(c.steps), silent: true, z: 3,
      symbol: "rect", symbolSize: 3.2, showAllSymbol: true,
      lineStyle: { color: "#000", width: 1.4 }, itemStyle: { color: "#000" },
    });
    txt(c.tx, c.ty, c.title, 10.5);
    txt(c.ax, c.ay, "AUC: " + c.auc, 10.5);
  };
  roc({ left: 169, top: 530, width: 79, height: 77, steps: rocPsO1AD, title: "HV vs AD", tx: 217, ty: 521, auc: aucLabels[0], ax: 222, ay: 596 });
  roc({ left: 45, top: 648, width: 79, height: 77, steps: rocPsO1HD, title: "HV vs HD", tx: 95, ty: 638, auc: aucLabels[1], ax: 112, ay: 713 });
  roc({ left: 166, top: 649, width: 79, height: 77, steps: rocPsO1PD, title: "HV vs PD", tx: 210, ty: 638, auc: aucLabels[2], ax: 217, ay: 714 });
  roc({ left: 413, top: 527, width: 77, height: 78, steps: rocPsO17AD, title: "HV vs AD", tx: 459, ty: 520, auc: aucLabels[3], ax: 467, ay: 596 });
  roc({ left: 293, top: 644, width: 77, height: 79, steps: rocPsO17HD, title: "HV vs HD", tx: 337, ty: 636, auc: aucLabels[4], ax: 342, ay: 713 });
  roc({ left: 411, top: 643, width: 78, height: 79, steps: rocPsO17PD, title: "HV vs PD", tx: 454, ty: 634, auc: aucLabels[5], ax: 457, ay: 713 });
  roc({ left: 676, top: 520, width: 82, height: 80, steps: rocPiAD, title: "HV vs AD", tx: 726, ty: 511, auc: aucLabels[6], ax: 724, ay: 589 });
  roc({ left: 555, top: 643, width: 86, height: 79, steps: rocPiHD, title: "HV vs HD", tx: 570, ty: 633, auc: aucLabels[7], ax: 612, ay: 716 });
  roc({ left: 677, top: 643, width: 82, height: 79, steps: rocPiPD, title: "HV vs PD", tx: 720, ty: 633, auc: aucLabels[8], ax: 729, ay: 716 });

  return {
    animation: false,
    backgroundColor: "#fff",
    grid, xAxis, yAxis, series, visualMap,
    graphic: { elements: els },
  };
}

export default function App() {
  const ref = useRef<HTMLDivElement>(null);
  useEffect(() => {
    if (!ref.current) return;
    const chart = echarts.init(ref.current, undefined, { renderer: "svg" });
    chart.setOption(buildOption() as any);
    return () => chart.dispose();
  }, []);
  return <div ref={ref} style={{ position: "absolute", left: 0, top: 0, width: 767, height: 747, background: "#fff" }} />;
}
